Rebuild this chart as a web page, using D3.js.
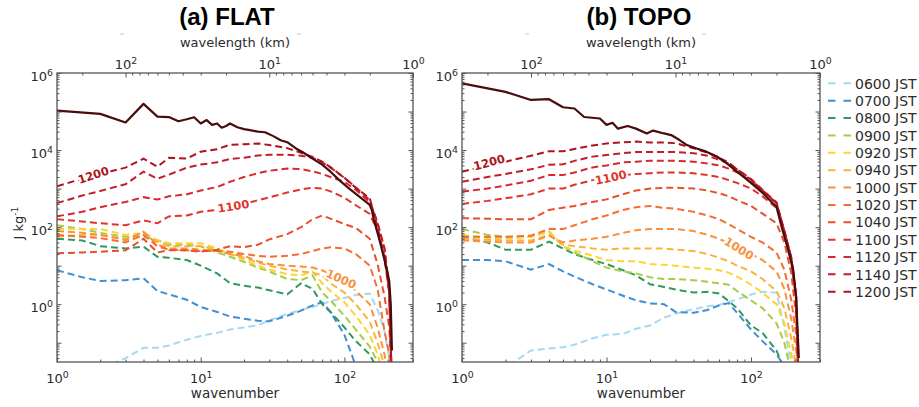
<!DOCTYPE html>
<html>
<head>
<meta charset="utf-8">
<script src="https://cdn.jsdelivr.net/npm/d3@7"></script>
<style>
  body { margin: 0; background: #fff; }
  svg text { font-family: "DejaVu Sans", sans-serif; }
  svg text.title { font-family: "Liberation Sans", Arial, sans-serif; }
</style>
</head>
<body>
<svg id="chart" width="919" height="407"></svg>
<script>
// wavenumber grid (shared by the dashed spectra)
var wavenumber = [1, 1.5, 2, 3, 4, 5, 6, 8, 10, 13, 16, 20, 25, 30, 40, 50, 60, 70, 80, 100, 120, 150, 170, 190, 205, 212];
var times = ["0600", "0700", "0800", "0900", "0920", "0940", "1000", "1020", "1040", "1100", "1120", "1140", "1200"];

// (a) FLAT, J kg-1, one row per time
var flatE = [
  [0.0032, 0.01, 0.02, 0.04, 0.074, 0.074, 0.085, 0.12, 0.15, 0.18, 0.22, 0.25, 0.28, 0.38, 0.56, 0.71, 0.85, 1.0, 1.2, 1.45, 1.74, 1.9, 0.71, 0.2, 0.04, 0.01],
  [7.6, 5.0, 4.0, 4.2, 4.7, 2.2, 1.8, 1.3, 0.85, 0.63, 0.48, 0.42, 0.37, 0.36, 0.5, 0.68, 0.93, 1.12, 0.63, 0.16, 0.025, 0.003, 0.001, 0.001, 0.001, 0.001],
  [50, 45, 32, 28, 31, 17, 16, 14, 10, 6.3, 3.5, 3.0, 2.7, 2.3, 1.8, 3.5, 2.5, 1.0, 0.63, 0.25, 0.11, 0.05, 0.02, 0.0063, 0.001, 0.001],
  [112, 89, 71, 56, 56, 46, 35, 35, 32, 22, 17, 12.6, 8.9, 7.1, 4.5, 4.2, 5.6, 2.0, 1.26, 0.5, 0.22, 0.079, 0.032, 0.01, 0.001, 0.001],
  [89, 89, 89, 63, 71, 46, 38, 38, 38, 28, 20, 14, 10, 7.9, 6.0, 5.6, 7.1, 3.5, 2.2, 1.12, 0.5, 0.16, 0.05, 0.013, 0.001, 0.001],
  [56, 63, 63, 50, 71, 42, 32, 32, 32, 26, 20, 16, 12, 10, 7.9, 7.1, 6.6, 5.6, 3.5, 2.0, 1.0, 0.35, 0.1, 0.025, 0.0032, 0.001],
  [79, 71, 63, 46, 76, 35, 28, 28, 26, 24, 20, 18, 13, 11, 10, 9.5, 8.9, 7.6, 6.0, 4.2, 2.2, 1.0, 0.25, 0.05, 0.01, 0.0032],
  [63, 56, 52, 40, 63, 32, 26, 25, 24, 24, 23, 20, 18, 17, 18, 20, 24, 28, 30, 28, 20, 10, 2.5, 0.2, 0.05, 0.016],
  [21, 22, 23, 25, 50, 22, 25, 25, 23, 26, 32, 30, 35, 48, 66, 100, 160, 200, 166, 120, 95, 50, 11, 1.6, 0.25, 0.025],
  [160, 140, 126, 112, 150, 126, 190, 200, 250, 280, 330, 400, 500, 590, 790, 950, 1050, 1000, 850, 580, 370, 220, 79, 16, 2.0, 0.032],
  [190, 250, 330, 450, 600, 520, 630, 710, 890, 1100, 1500, 2000, 2500, 2900, 3300, 3200, 2800, 2400, 2000, 1500, 930, 450, 130, 28, 2.5, 0.025],
  [420, 660, 870, 1300, 2750, 1800, 2300, 3500, 4200, 4800, 5900, 6300, 7200, 7600, 7600, 7100, 6300, 4800, 3500, 1900, 1070, 500, 126, 28, 2.5, 0.025],
  [1150, 1800, 2400, 3500, 6000, 3700, 6300, 6000, 9100, 10500, 13800, 14100, 14800, 13500, 11200, 8500, 6600, 5000, 3600, 1900, 1050, 560, 100, 16, 2.0, 0.025]
];

// (b) TOPO
var topoE = [
  [0.005, 0.01, 0.022, 0.063, 0.071, 0.076, 0.089, 0.13, 0.16, 0.17, 0.23, 0.28, 0.45, 0.56, 0.74, 0.89, 0.95, 1.15, 1.32, 1.78, 2.1, 2.0, 0.25, 0.025, 0.0032, 0.001],
  [14, 14, 13, 7.9, 11, 7.1, 5.2, 3.3, 2.4, 1.66, 1.26, 1.05, 1.0, 0.63, 0.6, 0.71, 0.93, 1.07, 0.6, 0.22, 0.11, 0.05, 0.025, 0.01, 0.0032, 0.001],
  [56, 40, 26, 26, 42, 28, 20, 14, 11, 7.6, 5.6, 3.3, 2.8, 2.4, 2.0, 2.1, 1.9, 1.2, 0.79, 0.28, 0.18, 0.063, 0.02, 0.0063, 0.001, 0.001],
  [89, 63, 56, 56, 76, 32, 22, 13, 8.9, 7.1, 6.3, 5.0, 4.5, 4.5, 4.2, 3.8, 3.5, 3.2, 2.2, 1.26, 0.79, 0.32, 0.1, 0.016, 0.001, 0.001],
  [63, 52, 50, 56, 79, 32, 25, 18, 14, 13, 13, 11, 10.5, 10, 8.9, 8.3, 7.6, 6.6, 5.2, 3.2, 2.0, 1.0, 0.32, 0.05, 0.01, 0.001],
  [50, 47, 45, 45, 63, 35, 32, 28, 26, 28, 28, 28, 28, 26, 24, 20, 16, 13, 10, 7.1, 4.5, 2.2, 0.79, 0.13, 0.025, 0.0032],
  [45, 42, 40, 40, 60, 40, 45, 50, 56, 71, 83, 89, 89, 89, 79, 63, 50, 38, 28, 20, 14, 7.1, 2.5, 0.4, 0.063, 0.016],
  [56, 56, 56, 60, 89, 89, 112, 160, 200, 280, 330, 355, 316, 300, 250, 200, 160, 120, 89, 56, 40, 22, 7.9, 1.26, 0.16, 0.02],
  [170, 166, 160, 160, 280, 320, 355, 450, 525, 710, 890, 1000, 1050, 1050, 1000, 890, 760, 630, 500, 355, 224, 126, 40, 6.3, 0.5, 0.025],
  [400, 480, 560, 710, 1000, 1000, 1260, 1660, 2000, 2240, 2400, 2500, 2630, 2630, 2500, 2240, 2000, 1660, 1410, 1000, 630, 316, 79, 12.6, 1.26, 0.025],
  [830, 1000, 1200, 1600, 2240, 2240, 2630, 3550, 4000, 4800, 5000, 5250, 5250, 5250, 5000, 4470, 4000, 3310, 2630, 1600, 890, 420, 79, 16, 1.58, 0.025],
  [1500, 2000, 2400, 3160, 4170, 4270, 5250, 6760, 7400, 8300, 8900, 8900, 8900, 8900, 8300, 7100, 5600, 4470, 3160, 1780, 930, 440, 79, 16, 1.58, 0.025],
  [2750, 4000, 5000, 7100, 9300, 9300, 10700, 13200, 14800, 15800, 16600, 15800, 15800, 15100, 11200, 8500, 6300, 4800, 3160, 1700, 890, 420, 79, 16, 1.58, 0.025]
];

// solid (total) spectra
var flatTotalK = [1, 2, 3, 4, 5, 6, 7, 8, 9, 10, 11, 12, 13, 14, 15, 16, 18, 20, 22, 25, 28, 32, 36, 40, 46, 52, 60, 70, 80, 92, 108, 127, 145, 150, 155, 160, 170, 180, 190, 200, 205, 210, 214];
var flatTotalE = [105000, 87000, 52000, 158000, 74000, 72000, 56000, 63000, 71000, 49000, 60000, 45000, 49000, 38000, 42000, 49000, 39000, 35000, 33000, 30000, 29000, 23000, 18000, 16000, 11000, 8500, 6000, 4200, 2750, 1660, 1000, 620, 420, 380, 280, 160, 71, 32, 14, 6.3, 4.0, 1.0, 0.063];
var topoTotalK = [1, 2, 3, 4, 5, 6, 7, 9, 10, 11, 12, 14, 16, 19, 21, 25, 28, 32, 36, 42, 49, 58, 68, 80, 98, 121, 142, 150, 163, 181, 196, 205, 214];
var topoTotalE = [537000, 324000, 200000, 209000, 129000, 120000, 72000, 66000, 45000, 51000, 36000, 42000, 36000, 27000, 32000, 27000, 24500, 18200, 13500, 11000, 9100, 6800, 4500, 2750, 1500, 760, 410, 340, 100, 25, 7.6, 1.58, 0.04];

var xTickValues = [1, 10, 100];
var lambdaTickValues = [100, 10, 1];
var yTickValues = [0.1, 1, 10, 100, 1000, 1e4, 1e5, 1e6];

// inline contour-style labels: panel, series index, wavenumber, energy, angle
var curveLabels = [
  [0, 12, 1.79, 2240, -18], [0, 9, 16.9, 351, -9], [0, 6, 95, 4.5, 24],
  [1, 12, 1.54, 4800, -15], [1, 9, 10.7, 1950, -12], [1, 6, 82.6, 28, 32]
];

var lineColors = ["#a6d9f2", "#3f8fd2", "#2f9a5e", "#a5cd45", "#fbd534", "#fbb33c", "#f8923b",
  "#f36f33", "#ea4f2b", "#e2332b", "#d52830", "#c41d2a", "#ad1320"];
var totalColor = "#4a0c0c";
var axisColor = "#555";
var textColor = "#2b2b2b";

var svg = d3.select("#chart");
var plotTop = 73, plotBottom = 362;
var y = d3.scaleLog().domain([0.0316, 1e6]).range([plotBottom, plotTop]);

var panels = [
  { title: "(a) FLAT", left: 57, right: 413, titleX: 227, series: flatE, totalK: flatTotalK, totalE: flatTotalE },
  { title: "(b) TOPO", left: 462, right: 820, titleX: 639, series: topoE, totalK: topoTotalK, totalE: topoTotalE }
];

function minorList(lo, hi) {
  var out = [];
  for (var e = -2; e <= 5; e++) {
    for (var m = 2; m <= 9; m++) {
      var v = m * Math.pow(10, e);
      if (v >= lo && v <= hi) out.push(v);
    }
  }
  return out;
}

function powerLabel(d) {
  var t = d3.select(this);
  var e = Math.round(Math.log10(d));
  t.text("10");
  t.append("tspan").attr("dy", "-0.55em").attr("font-size", "0.72em").text(e);
}

function styleAxis(g) {
  g.select(".domain").remove();
  g.attr("font-family", null).attr("font-size", 13).attr("color", axisColor);
  g.selectAll(".tick line").attr("stroke-width", 1);
  g.selectAll(".tick text").attr("fill", textColor);
  return g;
}

panels.forEach(function (p, idx) {
  var g = svg.append("g");
  var x = d3.scaleLog().domain([1, 300]).range([p.left, p.right]);
  var xTop = d3.scaleLog().domain([300, 1]).range([p.left, p.right]);

  var clipId = "clip" + idx;
  svg.append("clipPath").attr("id", clipId).append("rect")
    .attr("x", p.left).attr("y", plotTop).attr("width", p.right - p.left).attr("height", plotBottom - plotTop);

  var line = d3.line().x(function (d) { return x(d[0]); }).y(function (d) { return y(d[1]); });
  var curves = g.append("g").attr("clip-path", "url(#" + clipId + ")");

  p.series.forEach(function (vals, i) {
    curves.append("path")
      .datum(wavenumber.map(function (k, j) { return [k, vals[j]]; }))
      .attr("d", line)
      .attr("fill", "none")
      .attr("stroke", lineColors[i])
      .attr("stroke-width", 2)
      .attr("stroke-dasharray", "7,4");
  });

  curves.append("path")
    .datum(p.totalK.map(function (k, j) { return [k, p.totalE[j]]; }))
    .attr("d", line)
    .attr("fill", "none")
    .attr("stroke", totalColor)
    .attr("stroke-width", 2.2)
    .attr("stroke-linejoin", "round");

  // inline labels
  curveLabels.filter(function (c) { return c[0] === idx; }).forEach(function (c) {
    g.append("text")
      .attr("transform", "translate(" + x(c[2]) + "," + y(c[3]) + ") rotate(" + c[4] + ")")
      .attr("text-anchor", "middle")
      .attr("dy", "0.36em")
      .attr("font-size", 11.5)
      .attr("font-weight", "bold")
      .attr("fill", lineColors[c[1]])
      .attr("stroke", "#fff")
      .attr("stroke-width", 4)
      .attr("paint-order", "stroke")
      .text(times[c[1]]);
  });

  // bottom axis
  var gb = styleAxis(g.append("g").attr("transform", "translate(0," + plotBottom + ")")
    .call(d3.axisBottom(x).tickValues(xTickValues).tickSize(-4.5).tickPadding(12)));
  gb.selectAll(".tick text").each(powerLabel);
  styleAxis(g.append("g").attr("transform", "translate(0," + plotBottom + ")")
    .call(d3.axisBottom(x).tickValues(minorList(1, 300)).tickSize(-2.5).tickFormat("")));

  // top (wavelength) axis
  var gt = styleAxis(g.append("g").attr("transform", "translate(0," + plotTop + ")")
    .call(d3.axisTop(xTop).tickValues(lambdaTickValues).tickSize(-4.5).tickPadding(4)));
  gt.selectAll(".tick text").each(powerLabel);
  styleAxis(g.append("g").attr("transform", "translate(0," + plotTop + ")")
    .call(d3.axisTop(xTop).tickValues(minorList(1, 300)).tickSize(-2.5).tickFormat("")));

  // left axis
  var gl = styleAxis(g.append("g").attr("transform", "translate(" + p.left + ",0)")
    .call(d3.axisLeft(y).tickValues(yTickValues).tickSize(-4.5).tickPadding(4)));
  gl.selectAll(".tick text").attr("dy", "0.55em").each(function (d) {
    var e = Math.round(Math.log10(d));
    if (e % 2 !== 0) { d3.select(this).text(""); return; }
    powerLabel.call(this, d);
  });
  styleAxis(g.append("g").attr("transform", "translate(" + p.left + ",0)")
    .call(d3.axisLeft(y).tickValues(minorList(0.0316, 1e6)).tickSize(-2.5).tickFormat("")));

  // right axis (ticks only)
  styleAxis(g.append("g").attr("transform", "translate(" + p.right + ",0)")
    .call(d3.axisRight(y).tickValues(yTickValues).tickSize(-4.5).tickFormat("")));
  styleAxis(g.append("g").attr("transform", "translate(" + p.right + ",0)")
    .call(d3.axisRight(y).tickValues(minorList(0.0316, 1e6)).tickSize(-2.5).tickFormat("")));

  // frame
  g.append("rect")
    .attr("x", p.left).attr("y", plotTop)
    .attr("width", p.right - p.left).attr("height", plotBottom - plotTop)
    .attr("fill", "none").attr("stroke", axisColor).attr("stroke-width", 1.3);

  // titles and axis labels
  var cx = (p.left + p.right) / 2;
  svg.append("text").attr("class", "title").attr("x", p.titleX).attr("y", 25).attr("text-anchor", "middle")
    .attr("font-weight", "bold").attr("font-size", 24).attr("fill", "#000").text(p.title);
  svg.append("text").attr("x", cx).attr("y", 47).attr("text-anchor", "middle")
    .attr("font-size", 13).attr("fill", textColor).text("wavelength (km)");
  svg.append("text").attr("x", cx).attr("y", 398).attr("text-anchor", "middle")
    .attr("font-size", 13.5).attr("fill", textColor).text("wavenumber");

  // faint marks above the wavelength label
  [65, 242].forEach(function (off) {
    svg.append("line").attr("x1", p.left + off - 2).attr("x2", p.left + off + 2)
      .attr("y1", 34).attr("y2", 34).attr("stroke", "#c8c8c8").attr("stroke-width", 1);
  });
});

// y label
var yl = svg.append("text").attr("transform", "translate(23,223) rotate(-90)")
  .attr("text-anchor", "middle").attr("font-size", 13).attr("fill", textColor);
yl.append("tspan").text("J kg");
yl.append("tspan").attr("dy", "-0.55em").attr("font-size", "0.72em").text("-1");

// legend
var lg = svg.append("g");
times.forEach(function (t, i) {
  var yy = 83.3 + 17.37 * i;
  lg.append("line").attr("x1", 828).attr("x2", 852).attr("y1", yy).attr("y2", yy)
    .attr("stroke", lineColors[i]).attr("stroke-width", 2).attr("stroke-dasharray", "7.5,8");
  lg.append("text").attr("x", 855).attr("y", yy + 5.2).attr("font-size", 14)
    .attr("fill", textColor).text(t + " JST");
});
</script>
</body>
</html>
